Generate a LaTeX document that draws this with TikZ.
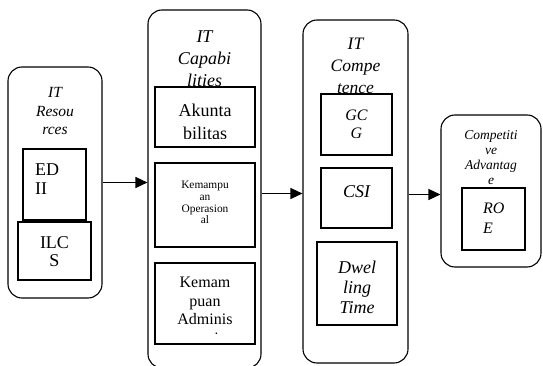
\documentclass[tikz,border=0pt]{standalone}
\usepackage{fontspec}
\setmainfont{Liberation Serif}
\usetikzlibrary{arrows.meta}

\begin{document}
\begin{tikzpicture}[x=1pt, y=-1pt, >={Triangle[length=12pt, width=11pt]},
  outer/.style={draw, line width=1.1pt, rounded corners=14pt},
  inbox/.style={draw, line width=1.4pt, fill=white},
  ttl/.style={inner sep=0pt, align=center, font=\itshape},
  txt/.style={inner sep=0pt, align=center},
  arr/.style={->, line width=1.3pt}]
  \useasboundingbox (0,0) rectangle (543,366);

  % outer columns
  \node[outer, minimum width=94pt, minimum height=231pt] (res) at (55,182.5) {};
  \node[outer, minimum width=113pt, minimum height=358pt] (cap) at (204.5,189) {};
  \node[outer, minimum width=105pt, minimum height=343pt] (comp) at (355.5,191.5) {};
  \node[outer, minimum width=100pt, minimum height=152pt] (adv) at (491,191) {};

  % column titles
  \node[ttl, font=\itshape\fontsize{15.5}{18.5}\selectfont] (resT) at (55,111.5) {IT\\Resou\\rces};
  \node[ttl, font=\itshape\fontsize{18}{22}\selectfont] (capT) at (204.5,59) {IT\\Capabi\\lities};
  \node[ttl, font=\itshape\fontsize{17.5}{22}\selectfont] (compT) at (355.5,65.5) {IT\\Compe\\tence};
  \node[ttl, font=\itshape\fontsize{13.5}{15}\selectfont] (advT) at (491,157.5) {Competiti\\ve\\Advantag\\e};

  % IT resources
  \node[inbox, minimum width=63pt, minimum height=71pt] (edii) at (54.5,184.5) {};
  \node[txt, align=left, anchor=west, font=\fontsize{18}{18.5}\selectfont] (ediiT) at (35,179) {ED\\II};
  \node[inbox, minimum width=73pt, minimum height=58pt] (ilcs) at (54.5,251) {};
  \node[txt, font=\fontsize{18}{18}\selectfont] (ilcsT) at (ilcs |- 0,252) {ILC\\S};

  % IT capabilities
  \node[inbox, minimum width=100pt, minimum height=60pt] (akun) at (205,117) {};
  \begin{scope}
    \clip (akun.north west) rectangle ([yshift=9pt]akun.south east);
    \node[txt, font=\fontsize{18}{22.5}\selectfont] (akunT) at (205,122) {Akunta\\bilitas};
  \end{scope}
  \node[inbox, minimum width=100pt, minimum height=84pt] (ops) at (205,205) {};
  \node[txt, font=\fontsize{11.4}{11.7}\selectfont] (opsT) at (205,202.5) {Kemampu\\an\\Operasion\\al};
  \node[inbox, minimum width=100pt, minimum height=81pt] (adm) at (205,303.5) {};
  \begin{scope}
    \clip (adm.north west) rectangle ([yshift=11pt]adm.south east);
    \node[txt, anchor=north, font=\fontsize{16}{18.5}\selectfont] (admT) at (205,277) {Kemam\\puan\\Adminis\\trasi};
  \end{scope}

  % IT competence
  \node[inbox, minimum width=71pt, minimum height=61pt] (gcg) at (356.5,124.5) {};
  \node[ttl, font=\itshape\fontsize{16}{18}\selectfont] (gcgT) at (356.5,124) {GC\\G};
  \node[inbox, minimum width=71pt, minimum height=60pt] (csi) at (356.5,198) {};
  \node[ttl, font=\itshape\fontsize{18}{20}\selectfont] (csiT) at (356.5,192) {CSI};
  \node[inbox, minimum width=80pt, minimum height=83pt] (dwel) at (357,283.5) {};
  \node[ttl, font=\itshape\fontsize{18}{20}\selectfont] (dwelT) at (357,287) {Dwel\\ling\\Time};

  % competitive advantage
  \node[inbox, minimum width=63pt, minimum height=62pt] (roe) at (493.5,219) {};
  \node[ttl, align=left, anchor=west, font=\itshape\fontsize{16}{20}\selectfont] (roeT) at (483,218) {RO\\E};

  % arrows between columns
  \draw[arr] (res.east) -- (res.east -| cap.west);
  \draw[arr] ([yshift=-2pt]cap.east |- comp.west) -- ([yshift=-2pt]comp.west);
  \draw[arr] ([yshift=-3pt]comp.east) -- ([yshift=-3pt]comp.east -| adv.west);
\end{tikzpicture}
\end{document}
